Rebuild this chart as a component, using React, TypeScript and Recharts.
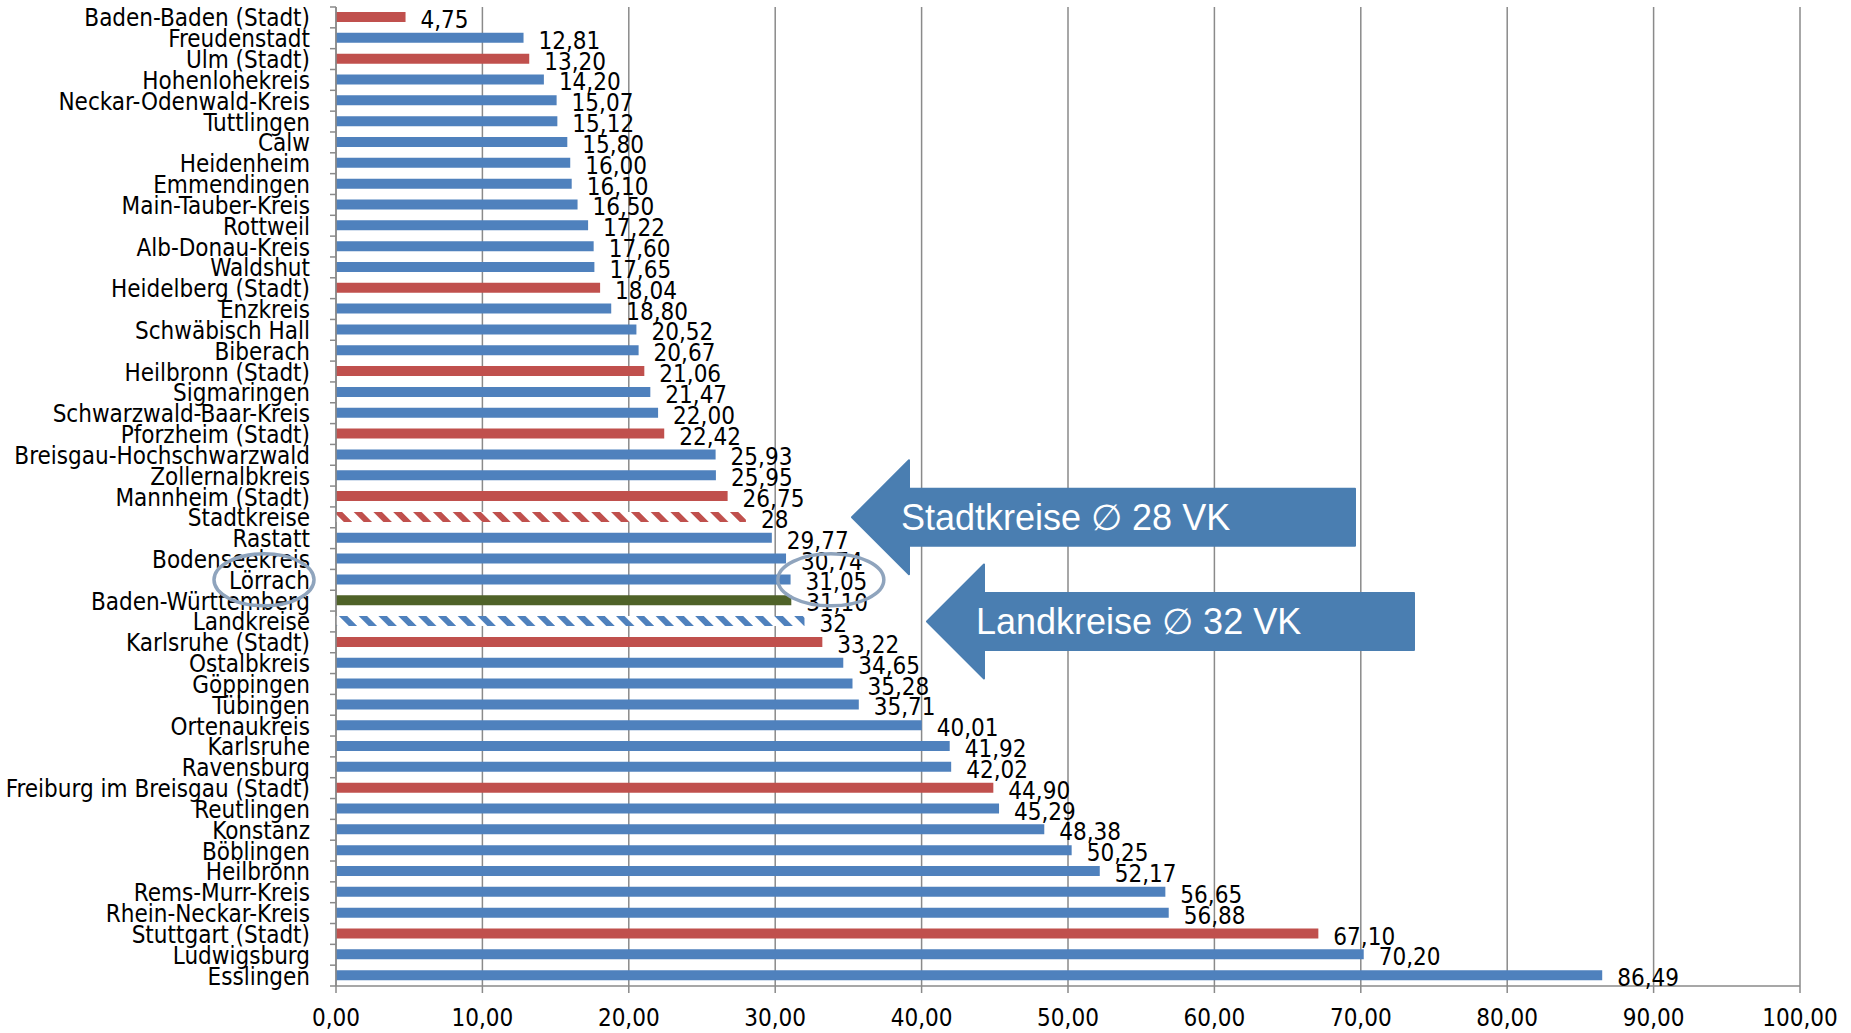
import React from 'react';
import { BarChart, Bar, XAxis, YAxis, CartesianGrid, Cell, LabelList } from 'recharts';

// Kreise, sortiert wie im Original (oben = kleinster Wert)
const kreise = [
  'Baden-Baden (Stadt)', 'Freudenstadt', 'Ulm (Stadt)', 'Hohenlohekreis', 'Neckar-Odenwald-Kreis',
  'Tuttlingen', 'Calw', 'Heidenheim', 'Emmendingen', 'Main-Tauber-Kreis', 'Rottweil',
  'Alb-Donau-Kreis', 'Waldshut', 'Heidelberg (Stadt)', 'Enzkreis', 'Schwäbisch Hall', 'Biberach',
  'Heilbronn (Stadt)', 'Sigmaringen', 'Schwarzwald-Baar-Kreis', 'Pforzheim (Stadt)',
  'Breisgau-Hochschwarzwald', 'Zollernalbkreis', 'Mannheim (Stadt)', 'Stadtkreise', 'Rastatt',
  'Bodenseekreis', 'Lörrach', 'Baden-Württemberg', 'Landkreise', 'Karlsruhe (Stadt)', 'Ostalbkreis',
  'Göppingen', 'Tübingen', 'Ortenaukreis', 'Karlsruhe', 'Ravensburg', 'Freiburg im Breisgau (Stadt)',
  'Reutlingen', 'Konstanz', 'Böblingen', 'Heilbronn', 'Rems-Murr-Kreis', 'Rhein-Neckar-Kreis',
  'Stuttgart (Stadt)', 'Ludwigsburg', 'Esslingen',
];

const werte = [
  4.75, 12.81, 13.2, 14.2, 15.07, 15.12, 15.8, 16.0, 16.1, 16.5, 17.22, 17.6, 17.65, 18.04, 18.8,
  20.52, 20.67, 21.06, 21.47, 22.0, 22.42, 25.93, 25.95, 26.75, 28, 29.77, 30.74, 31.05, 31.1, 32,
  33.22, 34.65, 35.28, 35.71, 40.01, 41.92, 42.02, 44.9, 45.29, 48.38, 50.25, 52.17, 56.65, 56.88,
  67.1, 70.2, 86.49,
];

// L = Landkreis, S = Stadtkreis, BW = Land, SD/LD = Durchschnitt
const typen = [
  'S', 'L', 'S', 'L', 'L', 'L', 'L', 'L', 'L', 'L', 'L', 'L', 'L', 'S', 'L', 'L', 'L', 'S', 'L', 'L',
  'S', 'L', 'L', 'S', 'SD', 'L', 'L', 'L', 'BW', 'LD', 'S', 'L', 'L', 'L', 'L', 'L', 'L', 'S', 'L',
  'L', 'L', 'L', 'L', 'L', 'S', 'L', 'L',
];

const xTicks = [0, 10, 20, 30, 40, 50, 60, 70, 80, 90, 100];

const W = 1851;
const H = 1033;
const M = { top: 7, right: 51, bottom: 0, left: 0 };
const Y_AXIS_W = 336;
const X_AXIS_H = 47;
const plotLeft = M.left + Y_AXIS_W;
const plotRight = W - M.right;
const plotTop = M.top;
const plotBottom = H - M.bottom - X_AXIS_H;
const band = (plotBottom - plotTop) / kreise.length;

const FONT = '"Liberation Sans Narrow", "DejaVu Sans Condensed", "Liberation Sans", sans-serif';
const GRID = '#8a8a8a';

const farbe = (t: string) => {
  switch (t) {
    case 'S':
      return '#C0504D';
    case 'BW':
      return '#4F6228';
    case 'SD':
      return 'url(#hatchRed)';
    case 'LD':
      return 'url(#hatchBlue)';
    default:
      return '#4F81BD';
  }
};

const fmt = (v: number, t: string) =>
  t === 'SD' || t === 'LD' ? String(v) : v.toFixed(2).replace('.', ',');

const data = kreise.map((name, i) => ({ name, wert: werte[i], typ: typen[i] }));

// helper for overlay positions
const xOf = (v: number) => plotLeft + ((plotRight - plotLeft) * v) / 100;
const yOf = (i: number) => plotTop + (i + 0.5) * band;

const YTick = (props: any) => {
  const { y, payload, index } = props;
  return (
    <g>
      <text
        x={plotLeft - 26}
        y={y}
        dy={9}
        textAnchor="end"
        fontFamily={FONT}
        fontSize={24}
        fill="#000"
      >
        {payload.value}
      </text>
      <line x1={plotLeft - 6} x2={plotLeft} y1={y - band / 2} y2={y - band / 2} stroke={GRID} strokeWidth={1.5} />
      {index === kreise.length - 1 && (
        <line x1={plotLeft - 6} x2={plotLeft} y1={y + band / 2} y2={y + band / 2} stroke={GRID} strokeWidth={1.5} />
      )}
    </g>
  );
};

const XTick = (props: any) => {
  const { x, payload } = props;
  return (
    <text x={x} y={plotBottom + 32} dy={8} textAnchor="middle" fontFamily={FONT} fontSize={24} fill="#000">
      {payload.value.toFixed(2).replace('.', ',')}
    </text>
  );
};

const WertLabel = (props: any) => {
  const { x, y, width, height, index } = props;
  const d = data[index];
  return (
    <text
      x={x + width + 15}
      y={y + height / 2}
      dy={11}
      fontFamily={FONT}
      fontSize={24}
      fill="#000"
    >
      {fmt(d.wert, d.typ)}
    </text>
  );
};

// Pfeil nach links (Annotation)
const Pfeil = ({ tipX, cy, endX, text }: { tipX: number; cy: number; endX: number; text: string }) => {
  const headW = 57;
  const headH = 57;
  const bodyH = 28.5;
  const hx = tipX + headW;
  const pts = [
    [tipX, cy],
    [hx, cy - headH],
    [hx, cy - bodyH],
    [endX, cy - bodyH],
    [endX, cy + bodyH],
    [hx, cy + bodyH],
    [hx, cy + headH],
  ]
    .map((p) => p.join(','))
    .join(' ');
  return (
    <g>
      <polygon points={pts} fill="#4A7EB1" stroke="#4A7EB1" strokeLinejoin="round" strokeWidth={2} />
      <text
        x={hx - 8}
        y={cy + 13}
        fill="#fff"
        fontFamily='"Liberation Sans", Arial, sans-serif'
        fontSize={36}
      >
        {text}
      </text>
    </g>
  );
};

export default function App() {
  const iStadt = kreise.indexOf('Stadtkreise');
  const iLand = kreise.indexOf('Landkreise');
  const iLoe = kreise.indexOf('Lörrach');
  return (
    <div style={{ position: 'absolute', left: 0, top: 0, width: W, height: H, background: '#fff' }}>
      <BarChart
        width={W}
        height={H}
        data={data}
        layout="vertical"
        margin={M}
        barCategoryGap="0%"
      >
        <defs>
          <pattern id="hatchRed" width="14" height="14" patternUnits="userSpaceOnUse" patternTransform="rotate(-45)">
            <rect width="14" height="14" fill="#fff" />
            <rect width="6" height="14" fill="#C0504D" />
          </pattern>
          <pattern id="hatchBlue" width="14" height="14" patternUnits="userSpaceOnUse" patternTransform="rotate(-45)">
            <rect width="14" height="14" fill="#fff" />
            <rect width="6" height="14" fill="#4F81BD" />
          </pattern>
        </defs>
        <CartesianGrid horizontal={false} stroke={GRID} strokeWidth={1.5} />
        <XAxis
          type="number"
          domain={[0, 100]}
          ticks={xTicks}
          interval={0}
          height={X_AXIS_H}
          axisLine={{ stroke: GRID, strokeWidth: 1.5 }}
          tickLine={{ stroke: GRID, strokeWidth: 1.5 }}
          tickSize={7}
          tick={<XTick />}
        />
        <YAxis
          type="category"
          dataKey="name"
          width={Y_AXIS_W}
          interval={0}
          axisLine={{ stroke: GRID, strokeWidth: 1.5 }}
          tickLine={false}
          tick={<YTick />}
        />
        <Bar dataKey="wert" barSize={10} isAnimationActive={false}>
          {data.map((d, i) => (
            <Cell key={i} fill={farbe(d.typ)} />
          ))}
          <LabelList dataKey="wert" content={<WertLabel />} />
        </Bar>
      </BarChart>
      <svg
        width={W}
        height={H}
        style={{ position: 'absolute', left: 0, top: 0, pointerEvents: 'none' }}
      >
        <ellipse cx={264} cy={yOf(iLoe)} rx={50} ry={26} fill="none" stroke="#8FA4BD" strokeWidth={3.5} />
        <ellipse cx={xOf(33.8)} cy={yOf(iLoe)} rx={53} ry={26} fill="none" stroke="#8FA4BD" strokeWidth={3.5} />
        <Pfeil tipX={852} cy={yOf(iStadt)} endX={1355} text="Stadtkreise ∅ 28 VK" />
        <Pfeil tipX={927} cy={yOf(iLand)} endX={1414} text="Landkreise ∅ 32 VK" />
      </svg>
    </div>
  );
}
